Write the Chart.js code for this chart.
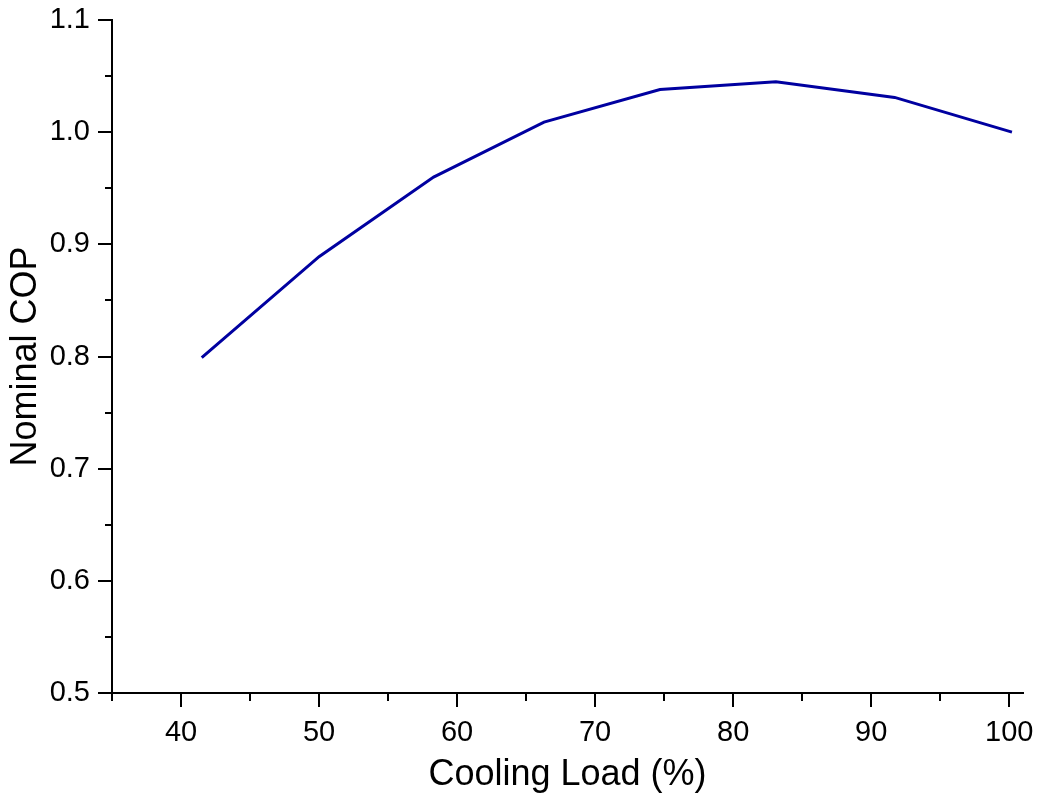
<!DOCTYPE html>
<html lang="en">
<head>
  <meta charset="UTF-8">
  <title>Nominal COP vs Cooling Load</title>
  <script src="https://cdn.jsdelivr.net/npm/chart.js"></script>
  <style>
    html, body { margin: 0; padding: 0; background: #fff; }
    #copChart { display: block; }
  </style>
</head>
<body>
  <canvas id="copChart" width="1039" height="793"></canvas>

  <script>
    // values
    const coolingLoad = [41.5, 50, 58.3, 66.3, 74.7, 83.1, 91.7, 100.2];
    const nominalCop = [0.799, 0.889, 0.960, 1.009, 1.038, 1.045, 1.031, 1.000];

    // tick positions (labels only on the major ones)
    const xTicks = [35, 40, 45, 50, 55, 60, 65, 70, 75, 80, 85, 90, 95, 100];
    const xMajor = [40, 50, 60, 70, 80, 90, 100];
    const yTicks = [0.5, 0.55, 0.6, 0.65, 0.7, 0.75, 0.8, 0.85, 0.9, 0.95, 1.0, 1.05, 1.1];
    const yMajor = [0.5, 0.6, 0.7, 0.8, 0.9, 1.0, 1.1];

    const isMajor = (list, v) => list.some(m => Math.abs(m - v) < 1e-6);
    const FONT = 'Liberation Sans, Arial, sans-serif';

    // draws outward ticks: long ones for labelled values, short ones between
    const tickMarks = {
      id: 'tickMarks',
      afterDraw(chart) {
        const ctx = chart.ctx;
        const x = chart.scales.x, y = chart.scales.y;
        ctx.save();
        ctx.strokeStyle = '#000';
        ctx.lineWidth = 2;
        ctx.beginPath();
        xTicks.forEach(v => {
          const px = Math.round(x.getPixelForValue(v));
          const len = isMajor(xMajor, v) ? 14 : 8;
          ctx.moveTo(px, x.top);
          ctx.lineTo(px, x.top + len);
        });
        yTicks.forEach(v => {
          const py = Math.round(y.getPixelForValue(v));
          const len = isMajor(yMajor, v) ? 14 : 7;
          ctx.moveTo(y.right, py);
          ctx.lineTo(y.right - len, py);
        });
        ctx.stroke();
        ctx.restore();
      }
    };

    const ctx = document.getElementById('copChart').getContext('2d');
    new Chart(ctx, {
      type: 'line',
      data: {
        datasets: [{
          data: coolingLoad.map((v, i) => ({ x: v, y: nominalCop[i] })),
          borderColor: '#0000a0',
          borderWidth: 3,
          pointRadius: 0,
          fill: false,
          tension: 0
        }]
      },
      options: {
        responsive: false,
        animation: false,
        layout: { padding: { top: 20, right: 16, bottom: 0, left: 8 } },
        plugins: {
          legend: { display: false },
          tooltip: { enabled: false }
        },
        scales: {
          x: {
            type: 'linear',
            min: 35,
            max: 101,
            afterBuildTicks: scale => { scale.ticks = xTicks.map(v => ({ value: v })); },
            // fixed axis band so the plot area sits where the original one does
            afterFit: scale => { scale.height = 100; scale.paddingLeft = 0; scale.paddingRight = 0; },
            grid: { drawOnChartArea: false, tickLength: 14, tickColor: 'rgba(0,0,0,0)' },
            border: { color: '#000', width: 2 },
            ticks: {
              autoSkip: false,
              maxRotation: 0,
              padding: 9,
              color: '#000',
              font: { family: FONT, size: 29 },
              callback: v => isMajor(xMajor, v) ? String(v) : ''
            },
            title: {
              display: true,
              text: 'Cooling Load (%)',
              color: '#000',
              font: { family: FONT, size: 36, lineHeight: 1 },
              padding: { top: 3, bottom: 0 }
            }
          },
          y: {
            min: 0.5,
            max: 1.1,
            afterBuildTicks: scale => { scale.ticks = yTicks.map(v => ({ value: v })); },
            afterFit: scale => { scale.width = 104; scale.paddingTop = 0; scale.paddingBottom = 0; },
            grid: { drawOnChartArea: false, tickLength: 14, tickColor: 'rgba(0,0,0,0)' },
            border: { color: '#000', width: 2 },
            ticks: {
              autoSkip: false,
              padding: 8,
              color: '#000',
              font: { family: FONT, size: 29 },
              callback: v => isMajor(yMajor, v) ? v.toFixed(1) : ''
            },
            title: {
              display: true,
              text: 'Nominal COP',
              color: '#000',
              font: { family: FONT, size: 36, lineHeight: 1 },
              padding: { top: 0, bottom: 6 }
            }
          }
        }
      },
      plugins: [tickMarks]
    });
  </script>
</body>
</html>
